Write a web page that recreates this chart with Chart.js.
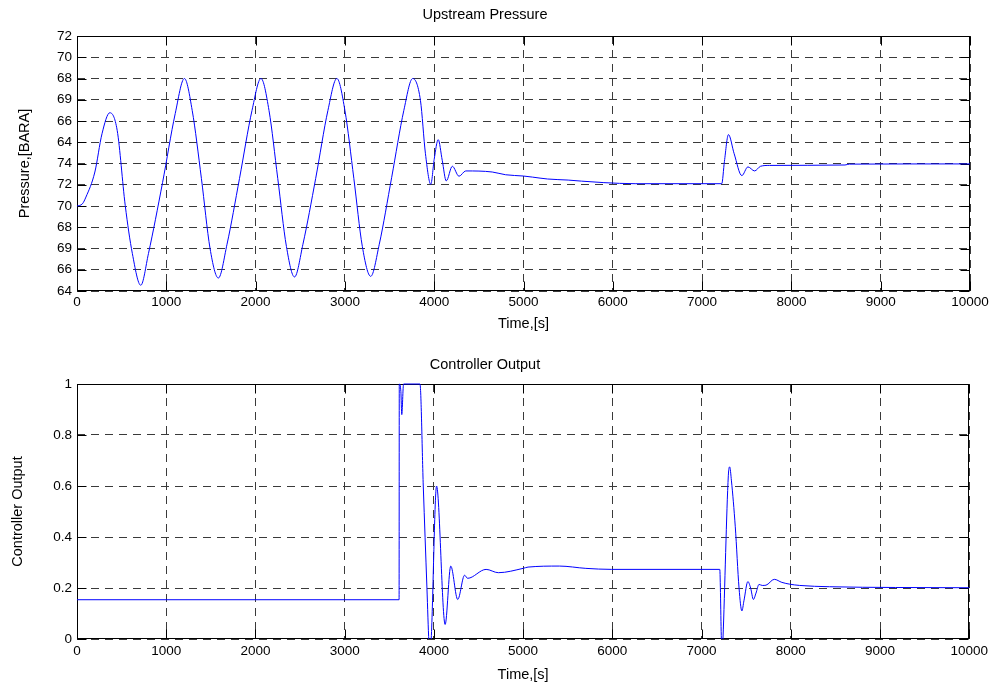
<!DOCTYPE html>
<html>
<head>
<meta charset="utf-8">
<script src="https://cdn.jsdelivr.net/npm/chart.js@4.4.1/dist/chart.umd.min.js"></script>
<style>
  html, body { margin: 0; padding: 0; background: #fff; }
  #wrap { position: relative; width: 992px; height: 685px; }
  canvas { position: absolute; left: 0; }
  #pressureChart { top: 0; }
  #outputChart { top: 340px; }
</style>
</head>
<body>
<div id="wrap">
  <canvas id="pressureChart" width="992" height="340"></canvas>
  <canvas id="outputChart" width="992" height="345"></canvas>
</div>
<script>
// --- data ---
// top plot: the y axis carries odd labels, so values are kept as grid steps (0 = bottom line, 12 = top line)
const pressureTickLabels = ["64", "66", "69", "68", "70", "72", "74", "64", "66", "69", "68", "70", "72"];
const pressureTime = [0, 60, 100, 200, 280, 368, 450, 540, 620, 714, 800, 958, 1100, 1203, 1290, 1393, 1490, 1583,
  1680, 1820, 1960, 2060, 2150, 2248, 2345, 2436, 2530, 2673, 2810, 2910, 3000, 3100, 3195, 3289, 3385, 3524,
  3660, 3759, 3846, 3902, 3962, 4000, 4045, 4090, 4135, 4203, 4278, 4353, 4650, 4800, 5000, 5100, 5270, 5500,
  5650, 5900, 6250, 7220, 7250, 7295, 7359, 7445, 7513, 7588, 7655, 7753, 8600, 8650, 10000];
const pressureLevel = [4.0, 4.1, 4.42, 5.6, 7.4, 8.39, 7.56, 4.03, 1.76, 0.27, 1.76, 5.1, 8.35, 10.0, 8.5, 5.3, 2.0, 0.61,
  2.2, 5.3, 8.5, 10.0, 8.5, 5.3, 2.1, 0.66, 2.2, 5.3, 8.5, 10.0, 8.5, 5.3, 2.1, 0.69, 2.2, 5.35,
  8.5, 10.0, 8.97, 6.46, 5.02, 6.2, 7.12, 6.15, 5.18, 5.87, 5.4, 5.65, 5.6, 5.47, 5.41, 5.36, 5.27, 5.22,
  5.17, 5.1, 5.05, 5.05, 6.1, 7.36, 6.46, 5.43, 5.84, 5.65, 5.87, 5.91, 5.93, 5.97, 5.98];

// bottom plot
const outputTime = [0, 3610, 3612, 3630, 3640, 3660, 3844, 3881, 3922, 3944, 3957, 3970, 4030, 4126, 4189, 4267,
  4344, 4378, 4585, 4722, 5000, 5055, 5407, 5703, 5990, 7204, 7222, 7232, 7240, 7300, 7315, 7335, 7378, 7420,
  7452, 7475, 7519, 7550, 7581, 7610, 7644, 7680, 7722, 7815, 7900, 7989, 8100, 8433, 9174, 10000];
const outputValue = [0.154, 0.154, 1.0, 0.97, 0.88, 1.0, 1.0, 0.6, 0.2, -0.01, -0.05, 0.0, 0.6, 0.057, 0.286, 0.155,
  0.25, 0.238, 0.273, 0.26, 0.277, 0.282, 0.286, 0.277, 0.273, 0.273, 0.0, -0.06, 0.0, 0.64, 0.675, 0.62, 0.44, 0.2,
  0.11, 0.15, 0.225, 0.2, 0.155, 0.18, 0.214, 0.21, 0.211, 0.234, 0.222, 0.215, 0.21, 0.205, 0.202, 0.201];

const timeTicks = [0, 1000, 2000, 3000, 4000, 5000, 6000, 7000, 8000, 9000, 10000];

const FONT = "'Liberation Sans', Arial, Helvetica, sans-serif";
const toPoints = (xs, ys) => xs.map((x, i) => ({ x: x, y: ys[i] }));

// matlab style box with inward ticks on all four sides
const axesBox = {
  id: "axesBox",
  beforeDatasetsDraw(chart) {
    const { ctx, chartArea: a, scales } = chart;
    const L = Math.round(a.left) + 0.5, R = Math.round(a.right) - 0.5;
    const T = Math.round(a.top) + 0.5, B = Math.round(a.bottom) - 0.5;
    const len = 9;
    ctx.save();
    ctx.setLineDash([]);
    ctx.strokeStyle = "#000";
    ctx.lineWidth = 1;
    ctx.beginPath();
    scales.x.ticks.forEach((t) => {
      const px = Math.round(scales.x.getPixelForValue(t.value)) + 0.5;
      ctx.moveTo(px, B); ctx.lineTo(px, B - len);
      ctx.moveTo(px, T); ctx.lineTo(px, T + len);
    });
    scales.y.ticks.forEach((t) => {
      const py = Math.round(scales.y.getPixelForValue(t.value)) + 0.5;
      ctx.moveTo(L, py); ctx.lineTo(L + len, py);
      ctx.moveTo(R, py); ctx.lineTo(R - len, py);
    });
    ctx.stroke();
    ctx.strokeRect(L, T, R - L, B - T);
    ctx.restore();
  },
};

function makeChart(id, cfg) {
  const ctx = document.getElementById(id).getContext("2d");
  return new Chart(ctx, {
    type: "line",
    data: {
      datasets: [
        {
          data: cfg.points,
          borderColor: "#0000ff",
          borderWidth: 1,
          pointRadius: 0,
          fill: false,
          cubicInterpolationMode: "monotone",
          clip: { left: 0, right: 1, top: 2, bottom: 0 },
        },
      ],
    },
    options: {
      responsive: false,
      animation: false,
      events: [],
      layout: { padding: { left: 0, right: 22, top: 0, bottom: 0 } },
      plugins: {
        legend: { display: false },
        tooltip: { enabled: false },
        title: {
          display: true,
          text: cfg.title,
          color: "#000",
          font: { family: FONT, size: 14.5, weight: "normal" },
          padding: cfg.titlePad,
        },
      },
      scales: {
        x: {
          type: "linear",
          min: 0,
          max: 10000,
          afterBuildTicks: (s) => { s.ticks = timeTicks.map((v) => ({ value: v })); },
          afterFit: (s) => { s.height = cfg.xHeight; },
          ticks: {
            color: "#000",
            font: { family: FONT, size: 13.5 },
            padding: cfg.xTickPad,
            maxRotation: 0,
            autoSkip: false,
            callback: (v) => String(v),
          },
          grid: { color: "#3a3a3a", lineWidth: 1, drawTicks: false, borderDash: [8, 6] },
          border: { display: false, dash: [8, 6] },
          title: {
            display: true,
            text: "Time,[s]",
            color: "#000",
            font: { family: FONT, size: 14.5 },
            padding: { top: 0, bottom: cfg.xTitlePad },
          },
        },
        y: {
          type: "linear",
          min: cfg.yMin,
          max: cfg.yMax,
          afterBuildTicks: (s) => { s.ticks = cfg.yTicks.map((v) => ({ value: v })); },
          afterFit: (s) => { s.width = 77; },
          ticks: {
            color: "#000",
            font: { family: FONT, size: 13.5 },
            padding: 5,
            callback: cfg.yLabel,
          },
          grid: { color: "#3a3a3a", lineWidth: 1, drawTicks: false, borderDash: [8, 6] },
          border: { display: false, dash: [8, 6] },
          title: {
            display: true,
            text: cfg.yTitle,
            color: "#000",
            font: { family: FONT, size: 14.5 },
            padding: { top: cfg.yTitlePad, bottom: 0 },
          },
        },
      },
    },
    plugins: [axesBox],
  });
}

makeChart("pressureChart", {
  points: toPoints(pressureTime, pressureLevel),
  title: "Upstream Pressure",
  titlePad: { top: 6, bottom: 12.6 },
  xHeight: 49,
  xTickPad: 3,
  xTitlePad: 7.3,
  yMin: 0,
  yMax: 12,
  yTicks: pressureTickLabels.map((_, i) => i),
  yLabel: (v) => pressureTickLabels[v],
  yTitle: "Pressure,[BARA]",
  yTitlePad: 16.3,
});

makeChart("outputChart", {
  points: toPoints(outputTime, outputValue),
  title: "Controller Output",
  titlePad: { top: 16.3, bottom: 10.3 },
  xHeight: 46,
  xTickPad: 4,
  xTitlePad: 1.3,
  yMin: 0,
  yMax: 1,
  yTicks: [0, 0.2, 0.4, 0.6, 0.8, 1],
  yLabel: (v) => (v === 0 || v === 1 ? String(v) : v.toFixed(1)),
  yTitle: "Controller Output",
  yTitlePad: 8.8,
});
</script>
</body>
</html>
